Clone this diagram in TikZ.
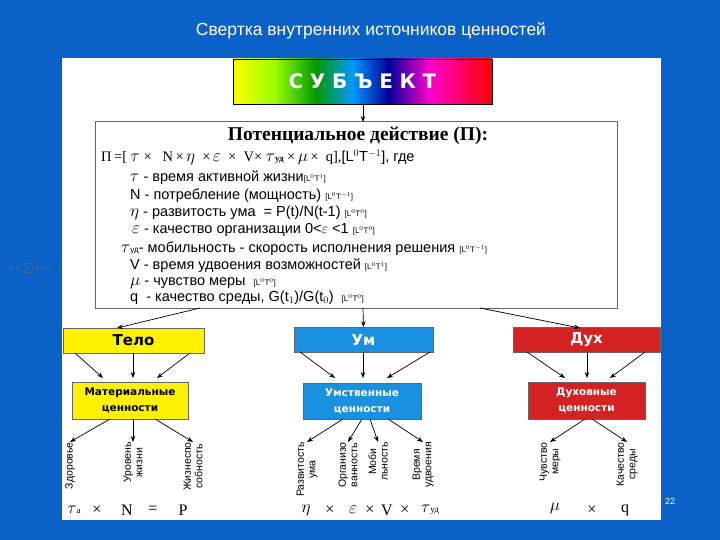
\documentclass[tikz,border=0pt]{standalone}
\usepackage{fontspec}
\setmainfont{Liberation Sans}
\newfontfamily\serifo{Liberation Serif}
\newfontfamily\arial{Liberation Sans}
\newfontfamily\boxf{DejaVu Sans}
\usetikzlibrary{arrows.meta}
\definecolor{bgblue}{HTML}{0A62C8}
\definecolor{umblue}{HTML}{1A90E0}
\definecolor{duhred}{HTML}{D42222}
\definecolor{telo}{HTML}{FFF200}
\pgfdeclarehorizontalshading{rainbow}{100bp}{color(0bp)=(yellow); color(25bp)=(yellow); color(33bp)=(yellow!60!green); color(41bp)=(green!60!black); color(48bp)=(cyan!60!blue); color(55bp)=(blue!60!black); color(63bp)=(magenta!80!red); color(75bp)=(red); color(100bp)=(red)}
\newcommand{\gk}[1]{{\fontsize{17}{17}\selectfont$#1$}}
\begin{document}
\begin{tikzpicture}[x=1pt,y=-1pt,
  arr/.style={-{Stealth[length=6pt,width=4.5pt]},black,line width=0.7pt},
  cbox/.style={draw=black!60,line width=0.8pt,inner sep=0pt,font=\boxf\bfseries\fontsize{15}{17}\selectfont},
  vbox/.style={draw=black!60,line width=0.8pt,inner sep=0pt,align=center,font=\boxf\bfseries\fontsize{10.5}{16}\selectfont},
  line/.style={anchor=west,inner sep=0pt,text height=9pt,text depth=2pt,font=\fontsize{14.5}{16}\selectfont},
  vlab/.style={rotate=90,anchor=east,align=center,inner sep=0pt,font=\fontsize{10.5}{11.5}\selectfont},
  frm/.style={inner sep=0pt,font=\serifo\fontsize{16}{18}\selectfont}]
\fill[bgblue] (0,0) rectangle (720,540);
\useasboundingbox (0,0) rectangle (720,540);
\fill[white] (62,58) rectangle (661,520);
\node[white,font=\fontsize{17.5}{19}\selectfont] (title) at (371,31) {Свертка внутренних источников ценностей};
\node[text=black!60,font=\serifo\fontsize{7}{8}\selectfont] (side) at (30,268) {$\eta=\sum\eta_i/n$};
\shade[shading=rainbow,draw=black,line width=0.6pt] (233,59) rectangle (492,104);
\node[inner sep=0pt,minimum width=259pt,minimum height=45pt] (subj) at (362.5,81.5) {};
\node[white,font=\boxf\bfseries\fontsize{20}{22}\selectfont] at (362.5,81.5) {С\,\,У\,\,Б\,\,Ъ\,\,Е\,\,К\,\,Т};
\node[draw=black!60,line width=1pt,minimum width=522pt,minimum height=186pt,inner sep=0pt] (main) at (356,215) {};
\draw[arr] (subj.south -| 363,0) -- (363,122);
\node[font=\serifo\bfseries\fontsize{19.5}{21}\selectfont] (mt) at (358,136) {Потенциальное действие (П):};
\node[line] (l0) at (101,158) {\serifo П\,=[\ \gk{\tau}\ ×\ \ \ N\,×\,\gk{\eta}\ \ ×\,\gk{\varepsilon}\ \ ×\ \ V×\ \gk{\tau}{\small\bfseries уд}\ ×\,\gk{\mu}\,×\ \ q],\arial[L$^0$T$^{-1}$], где};
\node[line] (l1) at (130,178) {\gk{\tau} - время активной жизни{\footnotesize[L$^0$T$^1$]}};
\node[line] (l2) at (130,196) {N - потребление (мощность) {\footnotesize[L$^0$T$^{-1}$]}};
\node[line] (l3) at (130,213) {\gk{\eta} - развитость ума\ \ = P(t)/N(t-1) {\footnotesize[L$^0$T$^0$]}};
\node[line] (l4) at (132,230) {\gk{\varepsilon} - качество организации 0<$\varepsilon$ <1 {\footnotesize[L$^0$T$^0$]}};
\node[line] (l5) at (121,249) {\gk{\tau}{\footnotesize уд}- мобильность - скорость исполнения решения {\footnotesize[L$^0$T$^{-1}$]}};
\node[line] (l6) at (130,266) {V\ - время удвоения возможностей {\footnotesize[L$^0$T$^1$]}};
\node[line] (l7) at (130,282) {\gk{\mu} - чувство меры\ \ {\footnotesize[L$^0$T$^0$]}};
\node[line] (l8) at (130,298) {q\ \ - качество среды, G(t$_1$)/G(t$_0$)\ \ {\footnotesize[L$^0$T$^0$]}};
% color boxes
\node[cbox,fill=telo,minimum width=141pt,minimum height=25pt] (telo) at (133.5,340.5) {Тело};
\node[cbox,fill=umblue,text=white,minimum width=139pt,minimum height=25pt] (um) at (363.5,340) {Ум};
\node[cbox,fill=duhred,text=white,minimum width=147pt,minimum height=25pt] (duh) at (586.5,340) {Дух};
\coordinate (m1) at (200,308); \coordinate (m3) at (480,308);
\draw[arr] (m1) -- (117,328);
\draw[arr] (363,308) -- (um.north);
\draw[arr] (m3) -- (580,328);
% value boxes
\node[vbox,fill=telo,minimum width=116pt,minimum height=37pt] (mat) at (130,400.5) {Материальные\\ценности};
\node[vbox,fill=umblue,text=white,minimum width=118pt,minimum height=36pt] (umc) at (362,401) {Умственные\\ценности};
\node[vbox,fill=duhred,text=white,minimum width=117pt,minimum height=37pt] (duc) at (586.5,400.5) {Духовные\\ценности};
\draw[arr] (75,353) -- (103,378);
\draw[arr] (133,353) -- (133,378);
\draw[arr] (190,353) -- (157,378);
\draw[arr] (300,352) -- (335,378);
\draw[arr] (363,352) -- (363,378);
\draw[arr] (430,352) -- (387,378);
\draw[arr] (527,352) -- (565,378);
\draw[arr] (587,352) -- (587,378);
\draw[arr] (645,352) -- (610,378);
% labels
\node[vlab] (a1) at (70,442) {Здоровье};
\node[vlab] (a2) at (133,442) {Уровень\\жизни};
\node[vlab] (a3) at (193,442) {Жизнеспо\\собность};
\draw[arr] (110,419) -- (a1.east);
\draw[arr] (133,419) -- (a2.east);
\draw[arr] (155,419) -- (a3.east);
\node[vlab] (b1) at (307,442) {Развитость\\ума};
\node[vlab] (b2) at (348,442) {Организо\\ванность};
\node[vlab] (b3) at (378,442) {Моби\\льность};
\node[vlab] (b4) at (423,442) {Время\\удвоения};
\draw[arr] (343,419) -- (b1.east);
\draw[arr] (362,419) -- (b2.east);
\draw[arr] (370,419) -- (b3.east);
\draw[arr] (388,419) -- (b4.east);
\node[vlab] (c1) at (550,442) {Чувство\\меры};
\node[vlab] (c2) at (627,442) {Качество\\среды};
\draw[arr] (585,419) -- (c1.east);
\draw[arr] (592,419) -- (c2.east);
% bottom formulas
\node[frm] (f1) at (74,510) {\gk{\tau}{\small а}};
\node[frm] (f1b) at (97,510) {×};
\node[frm] (f1c) at (127,510) {N};
\node[frm] (f1d) at (153,510) {=};
\node[frm] (f1e) at (183,510) {P};
\node[frm] (f2) at (306,510) {\gk{\eta}};
\node[frm] (f2b) at (330,510) {×};
\node[frm] (f2c) at (353,510) {\gk{\varepsilon}};
\node[frm] (f2d) at (370,510) {×};
\node[frm] (f2e) at (387,510) {V};
\node[frm] (f2f) at (405,510) {×};
\node[frm] (f2g) at (430,510) {\gk{\tau}{\small уд}};
\node[frm] (f3) at (555,508) {\gk{\mu}};
\node[frm] (f3b) at (592,510) {×};
\node[frm] (f3c) at (625,510) {q};
\node[white,font=\fontsize{9}{10}\selectfont] (pg) at (670,501) {22};
\end{tikzpicture}
\end{document}
